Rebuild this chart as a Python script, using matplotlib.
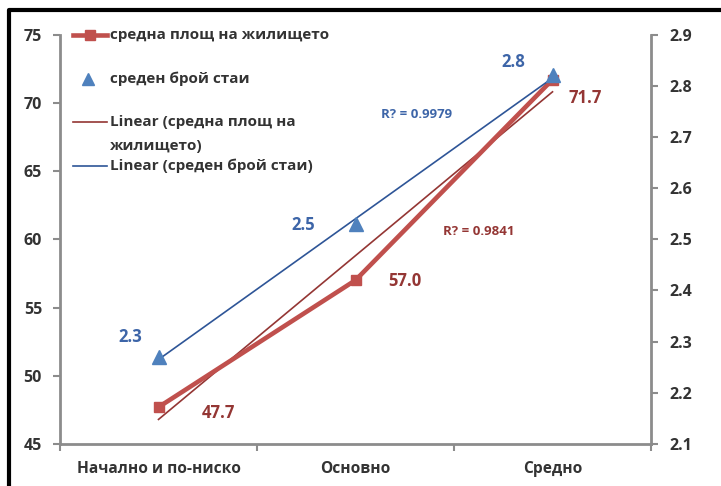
# housing_chart.py | средна площ и брой стаи по образование
import numpy as np
import matplotlib
matplotlib.use("Agg")
import matplotlib.pyplot as plt
from matplotlib.lines import Line2D

plt.rcParams["font.family"] = ["Open Sans", "DejaVu Sans"]
plt.rcParams["font.weight"] = "bold"

# -----------------------------------------------------------------------------#
# data
# -----------------------------------------------------------------------------#
categories = ["Начално и по-ниско", "Основно", "Средно"]
area = [47.7, 57.0, 71.7]            # средна площ на жилището (left axis)
rooms = [2.27, 2.53, 2.82]           # среден брой стаи (right axis)
room_labels = ["2.3", "2.5", "2.8"]
r2_area = "R? = 0.9841"
r2_rooms = "R? = 0.9979"
left_ticks = [45, 50, 55, 60, 65, 70, 75]
right_ticks = [2.1, 2.2, 2.3, 2.4, 2.5, 2.6, 2.7, 2.8, 2.9]

RED = "#C0504D"
RED_DARK = "#943634"
BLUE = "#4F81BD"
BLUE_DARK = "#2E5597"
BLUE_TXT = "#3D65A8"
GREY = "#8C8C8C"
TXT = "#333333"

W, H = 721, 486
fig = plt.figure(figsize=(W / 100, H / 100), dpi=100)
ax = fig.add_axes([60 / W, 1 - 444 / H, 591 / W, 409.5 / H])
ax2 = ax.twinx()

x = np.arange(len(categories))

# trend lines (linear fit, drawn from first to last category)
ca = np.polyfit(x, area, 1)
cr = np.polyfit(x, rooms, 1)
ax.plot(x[[0, -1]], np.polyval(ca, x[[0, -1]]), color=RED_DARK, lw=1.2, zorder=3)
ax2.plot(x[[0, -1]], np.polyval(cr, x[[0, -1]]), color=BLUE_DARK, lw=1.2, zorder=3)

# series
ax.plot(x, area, color=RED, lw=3.3, marker="s", ms=6.5, zorder=4)
ax2.plot(x, rooms, ls="none", marker="^", ms=10.5, color=BLUE, zorder=4)

# data labels
area_off = [(60, -6), (49, -1), (33, -18)]
for xi, v, (dx, dy) in zip(x, area, area_off):
    ax.annotate(f"{v:.1f}", (xi, v), xytext=(dx, dy), textcoords="offset pixels",
                ha="center", va="center", color=RED_DARK, fontsize=12, fontweight="bold")
room_off = [(-28, 20), (-52, -1), (-39, 13)]
for xi, v, lab, (dx, dy) in zip(x, rooms, room_labels, room_off):
    ax2.annotate(lab, (xi, v), xytext=(dx, dy), textcoords="offset pixels",
                 ha="center", va="center", color=BLUE_TXT, fontsize=12, fontweight="bold")

ax.text(479 / W, 1 - 231 / H, r2_area, transform=fig.transFigure, ha="center",
        va="center", color=RED_DARK, fontsize=9.5, fontweight="bold")
ax.text(417 / W, 1 - 115 / H, r2_rooms, transform=fig.transFigure, ha="center",
        va="center", color=BLUE_TXT, fontsize=9.5, fontweight="bold")

# axes styling
ax.set_xlim(-0.5, 2.5)
ax.set_ylim(45, 75)
ax2.set_ylim(2.1, 2.9)
ax.set_yticks(left_ticks)
ax2.set_yticks(right_ticks)
ax2.set_yticklabels([f"{t:.1f}" for t in right_ticks])
ax.set_xticks(x)
ax.set_xticklabels(categories)
ax.set_xticks([-0.5, 0.5, 1.5, 2.5], minor=True)
ax.tick_params(axis="x", which="major", length=0, pad=12, labelsize=11.2, labelcolor=TXT)
ax.tick_params(axis="x", which="minor", length=5, width=1.5, color=GREY, direction="out")
ax.tick_params(axis="y", length=5, width=1.5, color=GREY, labelsize=11.5, labelcolor=TXT, pad=8)
ax2.tick_params(axis="y", length=5, width=1.5, color=GREY, labelsize=11.5, labelcolor=TXT, pad=8)
for a in (ax, ax2):
    for s in a.spines.values():
        s.set_visible(False)
ax.spines["left"].set_visible(True)
ax.spines["bottom"].set_visible(True)
ax2.spines["right"].set_visible(True)
for s in (ax.spines["left"], ax.spines["bottom"], ax2.spines["right"]):
    s.set_color(GREY)
    s.set_linewidth(2)

# legend (drawn by hand to keep Excel's uneven spacing)
def fx(px):
    return px / W

def fy(py):
    return 1 - py / H

fig.add_artist(Line2D([fx(73), fx(107)], [fy(35), fy(35)], color=RED, lw=3.3,
                      transform=fig.transFigure))
fig.add_artist(Line2D([fx(90)], [fy(35)], ls="none", marker="s", ms=6.5, color=RED,
                      transform=fig.transFigure))
fig.add_artist(Line2D([fx(88)], [fy(79)], ls="none", marker="^", ms=9, color=BLUE,
                      transform=fig.transFigure))
fig.add_artist(Line2D([fx(73), fx(107)], [fy(122), fy(122)], color=RED_DARK, lw=1.2,
                      transform=fig.transFigure))
fig.add_artist(Line2D([fx(73), fx(107)], [fy(166), fy(166)], color=BLUE_DARK, lw=1.2,
                      transform=fig.transFigure))
leg_items = [(35, "средна площ на жилището"), (79, "среден брой стаи"),
             (122, "Linear (средна площ на"), (146, "жилището)"),
             (166, "Linear (среден брой стаи)")]
for py, t in leg_items:
    fig.text(fx(110), fy(py), t, ha="left", va="center", fontsize=11,
             fontweight="bold", color=TXT)

# outer frame
fig.add_artist(Line2D([fx(9), fx(9), fx(W)], [0, fy(10), fy(10)], color="black",
                      lw=3, transform=fig.transFigure))

fig.savefig("out.png", dpi=100, facecolor="white")
